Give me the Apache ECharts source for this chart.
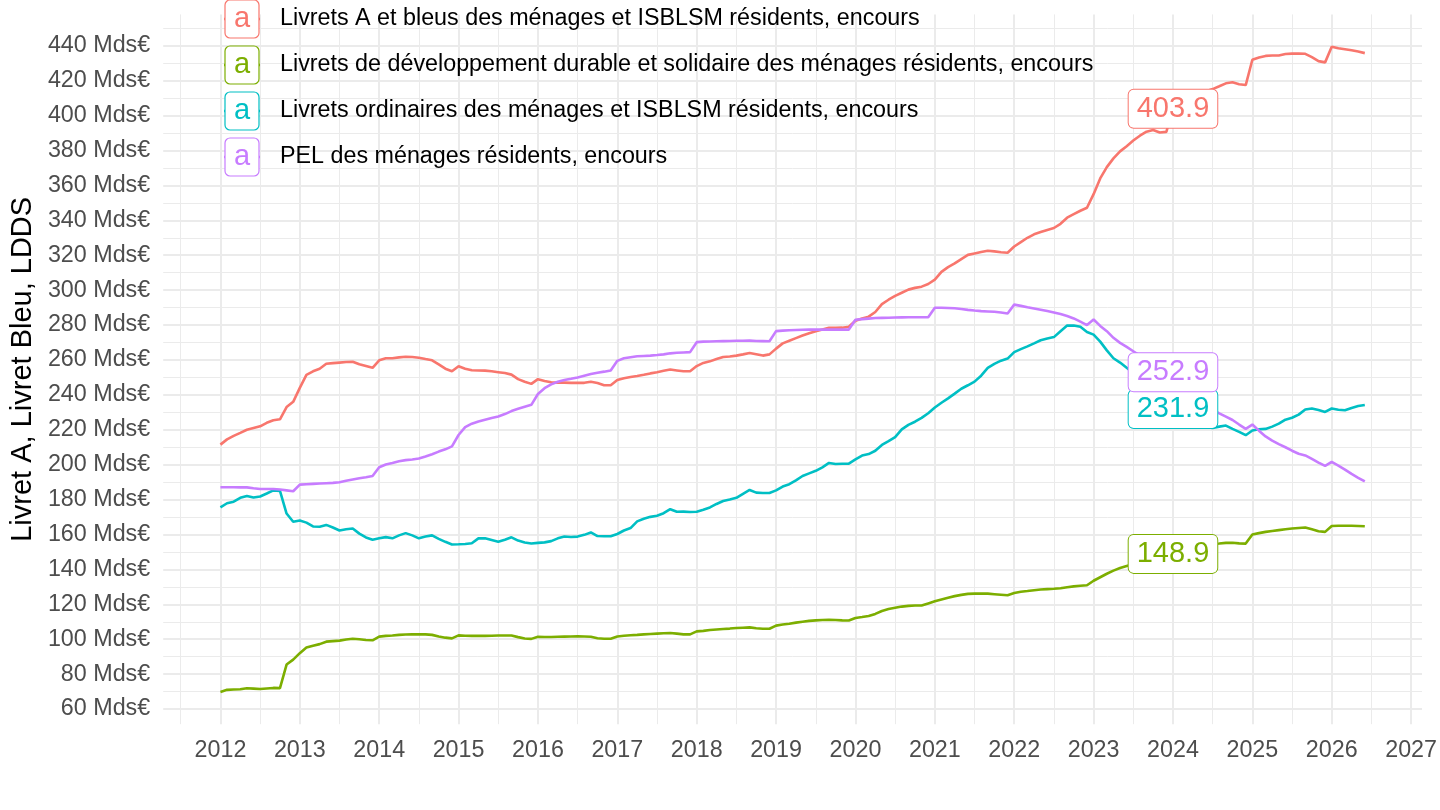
<!DOCTYPE html>
<html>
<head>
<meta charset="utf-8">
<title>Livret A, Livret Bleu, LDDS</title>
<script src="https://cdn.jsdelivr.net/npm/echarts@6.0.0/dist/echarts.min.js"></script>
<style>
  html, body { margin: 0; padding: 0; background: #fff; }
  #chart { width: 1440px; height: 810px; }
</style>
</head>
<body>
<div id="chart"></div>
<script>
// monthly series, first point = January 2012
var firstYear = 2012;
var labelDate = '2024-01';

var names = [
  'Livrets A et bleus des ménages et ISBLSM résidents, encours',
  'Livrets de développement durable et solidaire des ménages résidents, encours',
  'Livrets ordinaires des ménages et ISBLSM résidents, encours',
  'PEL des ménages résidents, encours'
];
var colors = ['#F8766D', '#7CAE00', '#00BFC4', '#C77CFF'];

var livretA = [
  211.5, 214.5, 216.5, 218.2, 220, 221, 222, 224, 225.5, 226, 233, 236,
  244, 251.5, 253.5, 255, 257.8, 258.2, 258.5, 258.8, 259, 257.5, 256.5, 255.5,
  259.8, 261, 261, 261.5, 261.8, 261.7, 261.3, 260.5, 259.8, 257.5, 255, 253.5,
  256.4, 255, 254.1, 254, 253.9, 253.5, 253, 252.5, 251.6, 249, 247.5, 246.3,
  249, 248, 247.2, 247, 247, 246.9, 246.9, 246.9, 247.5, 246.8, 245.5, 245.5,
  248.5, 249.5, 250.2, 250.8, 251.5, 252.3, 253, 253.8, 254.5, 254, 253.5, 253.5,
  256.5, 258.3, 259.2, 260.5, 261.7, 262, 262.5, 263.2, 264, 263.3, 262.5, 263.2,
  266.5, 269.5, 271, 272.5, 274, 275.3, 276.5, 277.5, 278.4, 278.4, 278.5, 279,
  282.5, 283.8, 284.8, 287.5, 292, 294.5, 296.7, 298.5, 300.3, 301.3, 302, 303.5,
  306, 310.5, 313.2, 315.3, 317.8, 320.2, 321, 321.8, 322.6, 322.2, 321.7, 321.4,
  325, 327.5, 330, 332, 333.3, 334.5, 335.6, 338, 341.5, 343.5, 345.5, 347.2,
  355, 364, 370.5, 375.5, 379.5, 382.5, 385.7, 388.5, 390.8, 391.8, 390.3, 390.7,
  403.9, 406, 409, 411, 412.5, 414, 415.2, 416.8, 418.5, 419.1, 418, 417.5,
  432, 433.3, 434.2, 434.4, 434.4, 435.3, 435.5, 435.5, 435.4, 433.5, 431.2, 430.5,
  439.5, 438.6, 438, 437.4, 436.7, 435.8
];

var ldds = [
  69.8, 71, 71.2, 71.3, 71.9, 71.7, 71.5, 71.8, 72.1, 72, 85.5, 88.3,
  92, 95.2, 96.3, 97.2, 98.6, 98.9, 99.2, 99.8, 100.3, 100, 99.6, 99.4,
  101.5, 101.9, 102.1, 102.5, 102.7, 102.8, 102.8, 102.8, 102.5, 101.6, 100.9, 100.5,
  102.2, 102, 101.9, 101.9, 101.9, 102, 102.1, 102.1, 102.1, 101.2, 100.4, 100.2,
  101.4, 101.3, 101.3, 101.4, 101.5, 101.6, 101.7, 101.6, 101.4, 100.6, 100.3, 100.3,
  101.6, 102, 102.3, 102.5, 102.8, 103, 103.2, 103.4, 103.6, 103.2, 102.8, 102.8,
  104.5, 104.8, 105.3, 105.6, 105.9, 106.1, 106.4, 106.6, 106.8, 106.3, 106, 106,
  107.8, 108.4, 108.9, 109.5, 110, 110.5, 110.8, 111, 111.2, 111, 110.8, 110.7,
  112.2, 112.7, 113.3, 114.5, 116.2, 117.3, 118, 118.7, 119.1, 119.3, 119.3, 120.5,
  121.7, 122.8, 123.8, 124.7, 125.4, 126, 126.1, 126.2, 126.1, 125.8, 125.5, 125.2,
  126.5, 127.2, 127.6, 128.1, 128.5, 128.7, 128.9, 129.2, 129.8, 130.3, 130.6, 130.9,
  133.5, 135.5, 137.5, 139.3, 140.8, 142, 143, 144, 145, 145.8, 146.8, 147.7,
  148.9, 150, 151, 152, 153, 153.8, 154.5, 154.8, 155.2, 155.3, 154.9, 154.8,
  160, 160.8, 161.5, 162, 162.5, 163, 163.4, 163.7, 164, 163, 161.9, 161.5,
  164.9, 165, 165, 165, 164.9, 164.7
];

var ordinaires = [
  175.6, 177.9, 178.8, 181, 182.1, 181.2, 181.8, 183.5, 185.3, 185, 172, 167.3,
  168, 166.8, 164.6, 164.4, 165.5, 164, 162.3, 163, 163.4, 160.5, 158.3, 157,
  157.8, 158.5, 157.8, 159.5, 160.8, 159.5, 157.8, 158.8, 159.5, 157.5, 155.8, 154.3,
  154.4, 154.6, 155, 157.8, 157.8, 156.8, 155.8, 157, 158.4, 156.5, 155.4, 154.8,
  155.2, 155.5, 156.2, 157.8, 158.9, 158.6, 158.8, 159.8, 161.2, 159.1, 159, 159,
  160.3, 162.3, 163.7, 167.5, 169, 170.1, 170.7, 172.2, 174.5, 173, 173.1, 172.9,
  173, 174.2, 175.5, 177.5, 179.2, 180, 181, 183.3, 185.5, 184, 183.8, 183.8,
  185.3, 187.5, 188.8, 191, 193.5, 195, 196.5, 198.5, 201, 200.4, 200.5, 200.6,
  203, 205.2, 206.1, 208, 211.3, 213.5, 215.8, 220.2, 222.8, 224.6, 226.8, 229.5,
  232.8, 235.5, 238, 240.7, 243.5, 245.5, 247.6, 251, 255.5, 257.8, 259.6, 260.8,
  264.5, 266.2, 267.8, 269.5, 271.3, 272.3, 273.1, 276.5, 279.7, 279.7, 279, 276,
  274.5, 270.5, 265.5, 261, 258.5, 255.5, 252.5, 249.5, 246, 243, 239.5, 235.5,
  231.9, 229, 226.5, 224.5, 222.8, 221.5, 221.1, 221.8, 222.4, 220.5, 218.8, 216.9,
  219.6, 220.3, 220.5, 221.8, 223.5, 225.8, 226.9, 228.7, 231.6, 232.2, 231.3, 230.2,
  232.2, 231.5, 231.2, 232.5, 233.6, 234.2
];

var pel = [
  187.1, 187.1, 187.1, 187.0, 187.0, 186.5, 186.1, 186.1, 186.1, 185.8, 185.3, 184.8,
  188.6, 188.8, 189.0, 189.2, 189.4, 189.6, 189.9, 190.8, 191.5, 192.2, 192.8, 193.5,
  198.5, 200.1, 201, 202, 202.6, 203, 203.5, 204.7, 206, 207.5, 208.8, 210.5,
  217, 221.5, 223.5, 224.8, 225.8, 226.8, 227.6, 229, 230.7, 232, 233.2, 234.3,
  240.5, 243.8, 246, 247.5, 248.5, 249.2, 250, 251, 252, 252.7, 253.3, 254,
  259.5, 261, 261.6, 262.1, 262.3, 262.5, 262.8, 263.2, 263.8, 264.1, 264.3, 264.5,
  270.2, 270.5, 270.6, 270.7, 270.8, 270.9, 271, 271, 271.1, 270.9, 270.8, 270.7,
  276.5, 276.8, 277, 277.2, 277.3, 277.4, 277.4, 277.4, 277.4, 277.4, 277.4, 277.4,
  283, 283.4, 283.7, 284, 284.1, 284.2, 284.3, 284.4, 284.5, 284.5, 284.5, 284.5,
  289.9, 289.9, 289.8, 289.6, 289.2, 288.7, 288.3, 288, 287.8, 287.6, 287.2, 286.6,
  291.7, 291, 290.2, 289.5, 288.8, 288, 287.2, 286.3, 285.2, 283.8, 282, 280,
  283.2, 279.5, 276.5, 272.7, 269.8, 267.5, 265, 262.5, 260, 257.8, 255.5, 254.2,
  252.9, 249, 245, 241, 237.5, 234, 231.5, 229.4, 227.5, 225.6, 223, 220.5,
  223, 219.5, 216.2, 213.8, 211.8, 210, 208, 206.3, 205.3, 203.3, 201.2, 199.3,
  201.6, 199.5, 197.2, 194.7, 192.5, 190.4
];

var xTicks = [2012, 2013, 2014, 2015, 2016, 2017, 2018, 2019, 2020, 2021, 2022, 2023, 2024, 2025, 2026, 2027];
var xMinor = [2011.5, 2012.5, 2013.5, 2014.5, 2015.5, 2016.5, 2017.5, 2018.5, 2019.5, 2020.5, 2021.5, 2022.5, 2023.5, 2024.5, 2025.5, 2026.5];
var yTicks = [60, 80, 100, 120, 140, 160, 180, 200, 220, 240, 260, 280, 300, 320, 340, 360, 380, 400, 420, 440];
var yMinor = [70, 90, 110, 130, 150, 170, 190, 210, 230, 250, 270, 290, 310, 330, 350, 370, 390, 410, 430, 450];

var values = [livretA, ldds, ordinaires, pel];

var font = '"Liberation Sans", Arial, Helvetica, sans-serif';
var chart = echarts.init(document.getElementById('chart'));

// decimal year of month i
function monthX(i) { return firstYear + i / 12; }

// ggplot-like 5% expansion
var nMonths = livretA.length;
var xLo = monthX(0), xHi = monthX(nMonths - 1);
var xMin = xLo - (xHi - xLo) * 0.05, xMax = xHi + (xHi - xLo) * 0.05;
var all = [].concat(livretA, ldds, ordinaires, pel);
var yLo = Math.min.apply(null, all), yHi = Math.max.apply(null, all);
var yMin = yLo - (yHi - yLo) * 0.05, yMax = yHi + (yHi - yLo) * 0.05;

var labelIdx = (parseInt(labelDate.slice(0, 4), 10) - firstYear) * 12 + parseInt(labelDate.slice(5, 7), 10) - 1;

function keyIcon(c) {
  var svg = '<svg xmlns="http://www.w3.org/2000/svg" width="51" height="40" viewBox="0 0 51 40">' +
    '<line x1="0" y1="20" x2="36" y2="20" stroke="' + c + '" stroke-width="2.3"/>' +
    '<rect x="1" y="1" width="34" height="38" rx="5" ry="5" fill="#fff" stroke="' + c + '" stroke-width="1.2"/>' +
    '<text x="18" y="28" text-anchor="middle" font-family="Liberation Sans, Arial, sans-serif" font-size="29" fill="' + c + '">a</text>' +
    '</svg>';
  return 'image://data:image/svg+xml;charset=utf-8,' + encodeURIComponent(svg);
}

var series = values.map(function (vals, k) {
  var c = colors[k];
  return {
    name: names[k],
    type: 'line',
    showSymbol: false,
    data: vals.map(function (v, i) { return [monthX(i), v]; }),
    lineStyle: { color: c, width: 2.6 },
    itemStyle: { color: c },
    emphasis: { disabled: true },
    markPoint: {
      symbol: 'circle',
      symbolSize: 1,
      silent: true,
      itemStyle: { color: 'rgba(0,0,0,0)' },
      label: {
        show: true,
        position: 'inside',
        formatter: function (p) { return p.value.toFixed(1); },
        fontSize: 29,
        fontFamily: font,
        color: c,
        backgroundColor: '#fff',
        borderColor: c,
        borderWidth: 1,
        borderRadius: 5,
        padding: [5, 8, 4, 8]
      },
      data: [{ coord: [monthX(labelIdx), vals[labelIdx]], value: vals[labelIdx] }]
    }
  };
});

var option = {
  backgroundColor: '#fff',
  animation: false,
  grid: { left: 160.6, right: 16.6, top: 14.4, bottom: 85.8 },
  legend: {
    orient: 'vertical',
    left: 224,
    top: -1,
    padding: 0,
    itemWidth: 51,
    itemHeight: 40,
    itemGap: 6,
    selectedMode: false,
    textStyle: { fontSize: 23.3, color: '#000', fontFamily: font },
    data: names.map(function (n, k) { return { name: n, icon: keyIcon(colors[k]) }; })
  },
  xAxis: [{
    type: 'value', min: xMin, max: xMax,
    axisLine: { show: false },
    axisTick: { show: false, customValues: xTicks },
    axisLabel: {
      customValues: xTicks, fontSize: 23.3, color: '#4D4D4D', fontFamily: font, margin: 15,
      formatter: function (v) { return String(v); }
    },
    splitLine: { show: true, lineStyle: { color: '#EBEBEB', width: 2 } }
  }, {
    type: 'value', min: xMin, max: xMax, position: 'bottom',
    axisLine: { show: false },
    axisTick: { show: false, customValues: xMinor },
    axisLabel: { show: false },
    splitLine: { show: true, lineStyle: { color: '#EBEBEB', width: 1 } }
  }],
  yAxis: [{
    type: 'value', min: yMin, max: yMax,
    name: 'Livret A, Livret Bleu, LDDS',
    nameLocation: 'middle',
    nameGap: 114,
    nameTextStyle: { fontSize: 29, color: '#000', fontFamily: font },
    axisLine: { show: false },
    axisTick: { show: false, customValues: yTicks },
    axisLabel: {
      customValues: yTicks, fontSize: 23.3, color: '#4D4D4D', fontFamily: font, margin: 13,
      formatter: function (v) { return v + ' Mds€'; }
    },
    splitLine: { show: true, lineStyle: { color: '#EBEBEB', width: 2 } }
  }, {
    type: 'value', min: yMin, max: yMax, position: 'left',
    axisLine: { show: false },
    axisTick: { show: false, customValues: yMinor },
    axisLabel: { show: false },
    splitLine: { show: true, lineStyle: { color: '#EBEBEB', width: 1 } }
  }],
  series: series
};

chart.setOption(option);
</script>
</body>
</html>
